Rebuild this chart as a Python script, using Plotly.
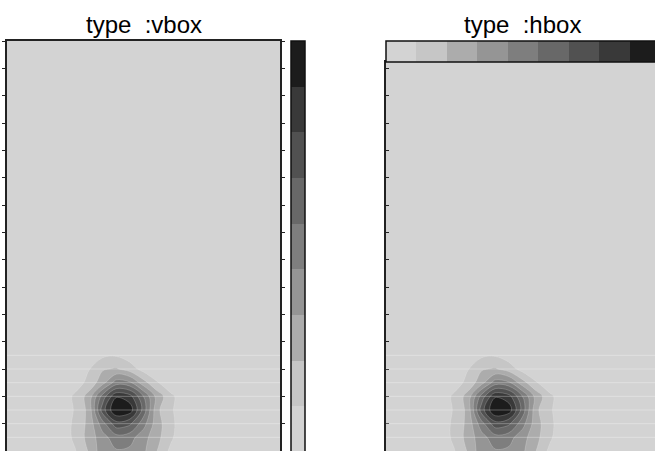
import plotly.graph_objects as go

# Grid coordinates of the sampled field
x_cols = list(range(0, 21))
y_rows = list(range(0, 9))

# Non-zero block of the field, columns x = 3 .. 14, rows y = 0 .. 8 (bottom to top)
block_x0 = 3
z_block = [
    [0, 0.3, 0.95, 2.1, 3.6, 3.9, 3.8, 3.2, 2.0, 0.75, 0, 0],
    [0, 0.5, 1.2, 2.4, 3.6, 4.6, 4.4, 3.4, 2.3, 1.2, 0.2, 0],
    [0, 0.5, 1.2, 2.3, 4.6, 6.6, 6.2, 4.4, 2.4, 1.3, 0.3, 0],
    [0, 0.4, 1.1, 2.3, 6.5, 9.0, 8.6, 5.6, 2.2, 1.2, 0.2, 0],
    [0, 0.4, 1.2, 2.4, 5.4, 7.9, 7.4, 5.0, 2.6, 1.3, 0.25, 0],
    [0, 0, 0.5, 1.3, 2.6, 4.5, 4.2, 2.4, 1.1, 0.1, 0, 0],
    [0, 0, 0, 0.95, 1.9, 2.1, 1.5, 0.6, 0.2, 0, 0, 0],
    [0, 0, 0, 0.3, 0.8, 0.9, 0.5, 0.1, 0, 0, 0, 0],
    [0, 0, 0, 0, 0, 0, 0, 0, 0, 0, 0, 0],
]

# Contour levels and the nine grey fills (lowest band first)
level_start, level_end, level_size = 1, 8, 1
z_low, z_high = 0, 9
greys = ["#d3d3d3", "#b8b8b8", "#a0a0a0", "#8a8a8a", "#727272",
         "#5d5d5d", "#444444", "#2e2e2e", "#1c1c1c"]

titles = ["type  :vbox", "type  :hbox"]

# full field: zeros with the block inserted
z = [[0.0 for _ in x_cols] for _ in y_rows]
for j, row in enumerate(z_block):
    for i, v in enumerate(row):
        z[j][block_x0 + i] = v

# colour map: fills are sampled at band centres 0.5, 1.5, ... over [0, 8]
span = (level_end - level_start + 1) * level_size
stops = [[0.0, greys[0]]]
for k, g in enumerate(greys):
    pos = min((k + 0.5) * level_size / span, 1.0)
    stops.append([pos, g])
colorscale = stops

W, H = 655, 451
left_px = (7, 280)
right_px = (386, 655)
top_left, top_right = 41, 62
panel_w = left_px[1] - left_px[0]
px_per_y = (H - top_left) / 30.0

contours_fill = dict(start=level_start, end=level_end, size=level_size,
                     coloring="fill", showlines=False)
contours_line = dict(start=level_start, end=level_end, size=level_size,
                     coloring="none", showlines=True)

cb_common = dict(ticks="", showticklabels=False, outlinewidth=1.5,
                 outlinecolor="#111111", xpad=0, ypad=0,
                 thicknessmode="pixels", lenmode="pixels")

cb_v = dict(cb_common, orientation="v", thickness=14, len=411,
            x=291 / W, xanchor="left", y=1 - top_left / H, yanchor="top")
cb_h = dict(cb_common, orientation="h", thickness=21, len=274,
            x=right_px[0] / W, xanchor="left", y=1 - top_left / H, yanchor="top")

fig = go.Figure()
for xa, ya, cb in [("x", "y", cb_v), ("x2", "y2", cb_h)]:
    fig.add_trace(go.Contour(
        x=x_cols, y=y_rows, z=z, autocontour=False,
        zmin=z_low, zmax=z_high, zauto=False,
        contours=contours_fill, colorscale=colorscale,
        line=dict(width=0), colorbar=cb, hoverinfo="skip",
        xaxis=xa, yaxis=ya))
    fig.add_trace(go.Contour(
        x=x_cols, y=y_rows, z=z, autocontour=False,
        contours=contours_line, showscale=False,
        line=dict(color="rgba(240,240,240,0.4)", width=0.6),
        hoverinfo="skip", xaxis=xa, yaxis=ya))

# faint seams along the interior sample rows
for xa, ya in [("x", "y"), ("x2", "y2")]:
    for yv in y_rows[1:-1]:
        fig.add_shape(type="line", xref=xa + " domain", yref=ya,
                      x0=0, x1=1, y0=yv, y1=yv, layer="above",
                      line=dict(color="rgba(255,255,255,0.3)", width=1))

axis_common = dict(showgrid=False, zeroline=False, showticklabels=False)
right_xmax = x_cols[-1] * (right_px[1] - right_px[0]) / panel_w

fig.update_layout(
    width=W, height=H,
    margin=dict(l=0, r=0, t=0, b=0, autoexpand=False),
    paper_bgcolor="white", plot_bgcolor=greys[0],
    showlegend=False,
    xaxis=dict(axis_common, domain=[left_px[0] / W, left_px[1] / W],
               range=[x_cols[0], x_cols[-1]], side="top", anchor="y",
               showline=True, linecolor="#222222", linewidth=1.5, ticks=""),
    yaxis=dict(axis_common, domain=[0, 1 - top_left / H], anchor="x",
               range=[0, 30], dtick=2, ticks="outside", ticklen=3,
               tickcolor="#222222", showline=True, linecolor="#222222",
               linewidth=1.5, mirror="ticks"),
    xaxis2=dict(axis_common, domain=[right_px[0] / W, 1],
                range=[x_cols[0], right_xmax], side="top", anchor="y2",
                showline=True, linecolor="#222222", linewidth=1.5, ticks=""),
    yaxis2=dict(axis_common, domain=[0, 1 - top_right / H], anchor="x2",
                range=[0, (H - top_right) / px_per_y], dtick=2, ticks="inside",
                ticklen=3, tickcolor="#222222", showline=True,
                linecolor="#222222", linewidth=1.5),
)

centres = [left_px[0] + panel_w / 2, right_px[0] + panel_w / 2]
for t, cx in zip(titles, centres):
    fig.add_annotation(text=t.replace("  ", "\u00a0 "), x=cx / W, y=1 - 24 / H,
                       xref="paper", yref="paper", xanchor="center",
                       yanchor="middle", showarrow=False,
                       font=dict(family="Liberation Sans, Arial", size=24,
                                 color="#000000"))

fig.write_html("out.html")
